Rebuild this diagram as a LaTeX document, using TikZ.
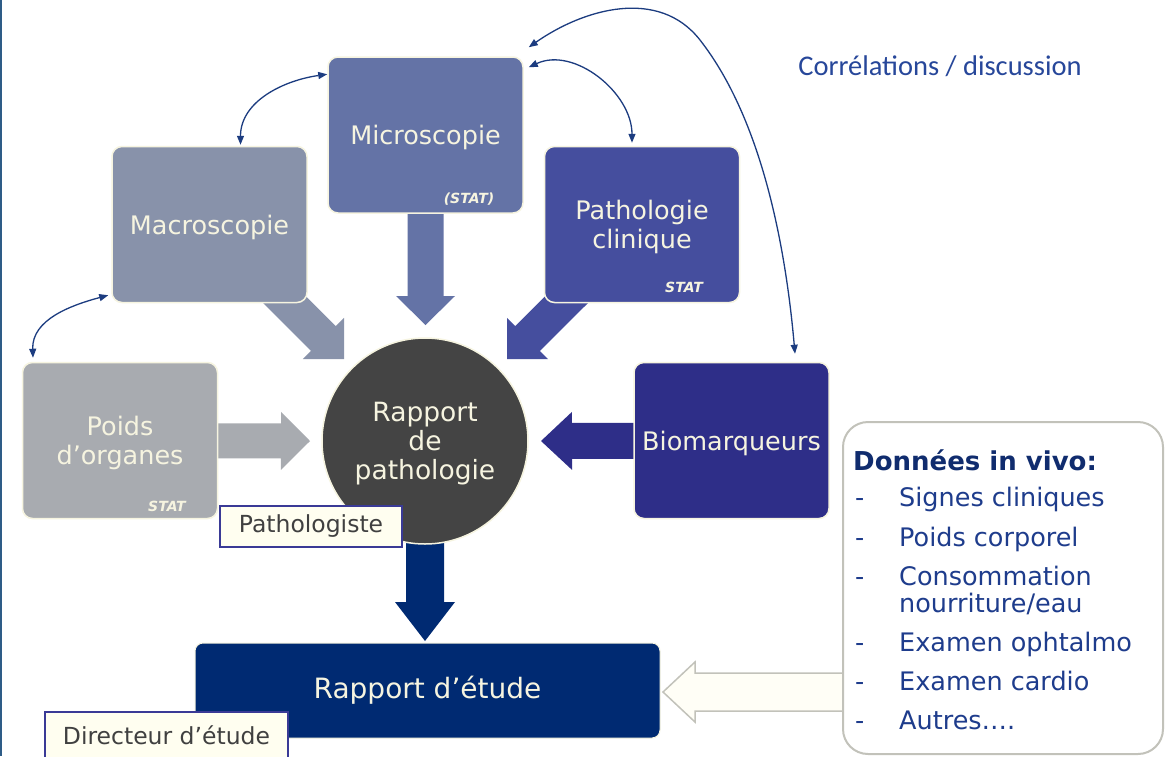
\documentclass[tikz,border=0pt]{standalone}
\usepackage{fontspec}
\setmainfont{DejaVu Sans}
\newfontfamily\calibrifont{Carlito}
\usetikzlibrary{calc,arrows.meta}

\definecolor{macroC}{HTML}{8892AA}
\definecolor{microC}{HTML}{6473A6}
\definecolor{pathoC}{HTML}{454E9E}
\definecolor{poidsC}{HTML}{A8ABB0}
\definecolor{bioC}{HTML}{2E2E88}
\definecolor{circC}{HTML}{444444}
\definecolor{etudeC}{HTML}{002A72}
\definecolor{creamC}{HTML}{F6F4E0}
\definecolor{labelC}{HTML}{FFFEF0}
\definecolor{labelEdge}{HTML}{3A3A96}
\definecolor{labelText}{HTML}{404040}
\definecolor{linkC}{HTML}{1C3C80}
\definecolor{listC}{HTML}{1E3C8C}
\definecolor{headC}{HTML}{102C6E}
\definecolor{corrC}{HTML}{27479A}
\definecolor{frameC}{HTML}{C2C2BA}
\definecolor{hollowC}{HTML}{FFFEF6}
\definecolor{edgeC}{HTML}{2E5C87}

% block arrow: style, from, to, half shaft width, half head width, head length
\newcommand\blockarrow[6]{%
  \path (#3) coordinate (batip) ($(#3)!#6!(#2)$) coordinate (babase);
  \path[#1] ($(#2)!#4!90:(#3)$) -- ($(babase)!#4!90:(batip)$)
    -- ($(babase)!#5!90:(batip)$) -- (batip)
    -- ($(babase)!#5!-90:(batip)$) -- ($(babase)!#4!-90:(batip)$)
    -- ($(#2)!#4!-90:(#3)$) -- cycle;
}

\tikzset{
  stepbox/.style={rectangle, rounded corners=10pt, draw=creamC, line width=1.5pt,
    minimum width=195pt, minimum height=156pt, inner sep=0pt, text=creamC,
    text depth=0pt, align=center, font=\fontsize{25.5}{28.5}\selectfont},
  stat/.style={text=creamC, inner sep=0pt, font=\fontsize{14}{16}\selectfont\bfseries\itshape},
  role/.style={rectangle, draw=labelEdge, line width=2pt, fill=labelC, text=labelText,
    inner sep=0pt, font=\fontsize{23.5}{28}\selectfont},
  link/.style={draw=linkC, line width=1.3pt,
    arrows={Triangle[length=9pt,width=7pt]-Triangle[length=9pt,width=7pt]}},
  listtext/.style={anchor=base west, inner sep=0pt, text=listC,
    font=\fontsize{25.5}{30}\selectfont},
}

\begin{document}
\begin{tikzpicture}[x=1pt, y=-1pt]
\useasboundingbox (0,0) rectangle (1171,756);
\fill[white] (0,0) rectangle (1171,756);
\draw[edgeC, line width=2pt] (1,0) -- (1,756);

% node positions
\coordinate (macroP) at (209.5,224.5);
\coordinate (microP) at (425.5,135);
\coordinate (pathoP) at (642,224.5);
\coordinate (poidsP) at (120,440.5);
\coordinate (bioP) at (731.5,440.5);
\coordinate (circP) at (425,441);

% tips of the block arrows
\coordinate (macroTip) at (344,359);
\coordinate (microTip) at (425.5,325);
\coordinate (pathoTip) at (507,359);
\coordinate (poidsTip) at (310,441);
\coordinate (bioTip) at (541,441);
\coordinate (circTip) at (425,641);
\coordinate (vivoTip) at (663,692);
\coordinate (vivoStart) at (900,692);

% block arrows (drawn under the boxes)
\blockarrow{fill=macroC}{macroP}{macroTip}{17.5pt}{29pt}{29pt}
\blockarrow{fill=microC}{microP}{microTip}{18pt}{29.5pt}{29pt}
\blockarrow{fill=pathoC}{pathoP}{pathoTip}{17.5pt}{29pt}{29pt}
\blockarrow{fill=poidsC}{poidsP}{poidsTip}{17.5pt}{29pt}{29pt}
\blockarrow{fill=bioC}{bioP}{bioTip}{18pt}{29pt}{31pt}
\blockarrow{fill=etudeC}{circP}{circTip}{19pt}{30pt}{39pt}
\blockarrow{fill=hollowC, draw=frameC, line width=1.5pt}{vivoStart}{vivoTip}{19pt}{30pt}{32pt}

% boxes
\node[stepbox, fill=macroC] (macro) at (macroP) {Macroscopie};
\node[stepbox, fill=microC] (micro) at (microP) {Microscopie};
\node[stepbox, fill=pathoC] (patho) at (pathoP) {Pathologie\\clinique};
\node[stepbox, fill=poidsC] (poids) at (poidsP) {Poids\\d’organes};
\node[stepbox, fill=bioC] (bio) at (bioP) {Biomarqueurs};

\node[stat] (statMicro) at (469,199) {(STAT)};
\node[stat] (statPatho) at (684,287) {STAT};
\node[stat] (statPoids) at (167,506) {STAT};

% central report
\node[circle, fill=circC, draw=creamC, line width=1.5pt, minimum size=206pt, inner sep=0pt,
  text=creamC, text depth=0pt, align=center, font=\fontsize{26.5}{29}\selectfont] (circ) at (circP)
  {Rapport\\de\\pathologie};

\node[role, minimum width=182pt, minimum height=41pt] (patholo) at (311,526.5) {Pathologiste};

% study report
\node[rectangle, rounded corners=8pt, fill=etudeC, draw=creamC, line width=1pt,
  minimum width=465pt, minimum height=95pt, text=creamC,
  font=\fontsize{28}{32}\selectfont] (etude) at (427.5,690.5) {Rapport d’étude};

\node[role, minimum width=243pt, minimum height=46pt] (direct) at (166.5,735) {Directeur d’étude};

% in vivo data
\node[rectangle, rounded corners=25pt, draw=frameC, line width=2pt, fill=white,
  minimum width=320pt, minimum height=332pt] (invivo) at (1003,588) {};
\node[anchor=base west, inner sep=0pt, text=headC,
  font=\fontsize{26}{30}\selectfont\bfseries] (vivoHead) at (853,470) {Données in vivo:};
\foreach \yy/\tt [count=\i] in {506/Signes cliniques, 546/Poids corporel,
    585/Consommation, 651/Examen ophtalmo, 690/Examen cardio, 729/Autres…. }{
  \node[listtext] (dash\i) at (855,\yy) {-};
  \node[listtext] (item\i) at (899,\yy) {\tt};
}
\node[listtext] (item3b) at (899,612) {nourriture/eau};

\node[text=corrC, inner sep=0pt, font=\calibrifont\fontsize{28.5}{34}\selectfont]
  (corr) at (940,66) {Corrélations / discussion};

% correlation links
\coordinate (arcBend) at (700,40);
\draw[link] ([xshift=31pt,yshift=1pt]macro.north) to[out=90,in=188] ([yshift=-18pt]micro.north west);
\draw[link] ([xshift=-87pt,yshift=4pt]poids.north) to[out=92,in=195] ([xshift=-3pt,yshift=8pt]macro.south west);
\draw[link] ([xshift=5pt,yshift=-11pt]micro.north east) to[out=25,in=90] ([xshift=-10pt,yshift=3pt]patho.north);
\draw[link] ([xshift=5pt,yshift=9pt]micro.north east) to[out=35,in=128] (arcBend)
  to[out=-52,in=95,looseness=0.8] ([xshift=63.5pt,yshift=8pt]bio.north);
\end{tikzpicture}
\end{document}
